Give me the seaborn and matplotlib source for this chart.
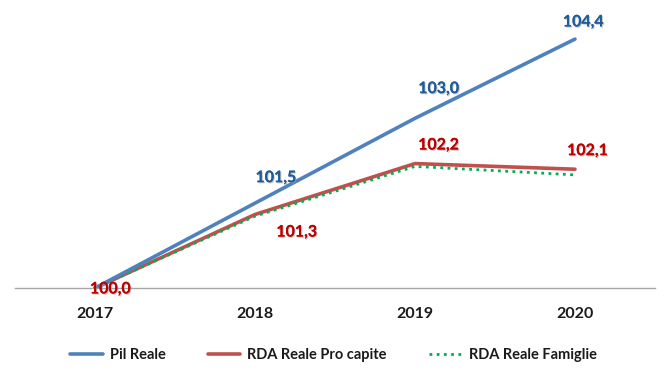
import matplotlib
matplotlib.use("Agg")
import matplotlib.pyplot as plt
import matplotlib.patheffects as pe
import seaborn as sns
import pandas as pd

years = ["2017", "2018", "2019", "2020"]
pil_reale = [100.0, 101.5, 103.0, 104.4]
rda_pro_capite = [100.0, 101.3, 102.2, 102.1]
rda_famiglie = [100.0, 101.27, 102.15, 102.0]
series_names = ["Pil Reale", "RDA Reale Pro capite", "RDA Reale Famiglie"]

df = pd.DataFrame({
    "anno": years * 3,
    "valore": pil_reale + rda_pro_capite + rda_famiglie,
    "serie": [series_names[0]] * 4 + [series_names[1]] * 4 + [series_names[2]] * 4,
})

sns.set_theme(style="white")
plt.rcParams['font.family'] = ['Lato', 'DejaVu Sans']

fig = plt.figure(figsize=(6.67, 3.8), dpi=100)
ax = fig.add_axes([0.0225, 0.242, 0.9595, 0.737])

palette = {series_names[0]: "#4F81BD", series_names[1]: "#C0504D", series_names[2]: "#00B050"}
sns.lineplot(data=df, x="anno", y="valore", hue="serie", style="serie",
             palette=palette,
             dashes={series_names[0]: "", series_names[1]: "", series_names[2]: (1, 1.6)},
             sort=False, ax=ax, legend=False)
lw = {0: 2.6, 1: 2.6, 2: 2.0}
zo = {0: 3, 1: 2.5, 2: 2.8}
for i, line in enumerate(ax.get_lines()[:3]):
    line.set_linewidth(lw[i])
    line.set_zorder(zo[i])

ax.set_xlim(-0.5, 3.5)
ax.set_ylim(100, 104.95)
ax.set_yticks([])
ax.set_xlabel("")
ax.set_ylabel("")
for s in ["top", "right", "left"]:
    ax.spines[s].set_visible(False)
ax.spines["bottom"].set_color("#A6A6A6")
ax.spines["bottom"].set_linewidth(1.0)
ax.tick_params(axis="x", length=0, pad=14, labelsize=11.5)
for t in ax.get_xticklabels():
    t.set_fontweight("bold")
    t.set_color("#1a1a1a")

def fmt(v):
    return f"{v:.1f}".replace(".", ",")

shadow = [pe.withSimplePatchShadow(offset=(0.8, -0.8), shadow_rgbFace="#9a9a9a", alpha=0.6), pe.Normal()]
blue_txt = "#1F5C99"
red_txt = "#C00000"
pil_offsets = [None, (15, 18), (17, 21), (6, 12)]
rda_offsets = [(11, -1), (30, -13), (17, 13), (9, 13)]
for i, v in enumerate(pil_reale):
    if pil_offsets[i] is None:
        continue
    ax.annotate(fmt(v), (i, v), xytext=pil_offsets[i], textcoords="offset points",
                ha="center", va="center", fontsize=11.5, fontweight="bold",
                color=blue_txt, path_effects=shadow, zorder=5)
for i, v in enumerate(rda_pro_capite):
    ax.annotate(fmt(v), (i, v), xytext=rda_offsets[i], textcoords="offset points",
                ha="center", va="center", fontsize=11.5, fontweight="bold",
                color=red_txt, path_effects=shadow, zorder=5, annotation_clip=False)

from matplotlib.lines import Line2D
handles = [
    Line2D([], [], color="#4F81BD", lw=2.6),
    Line2D([], [], color="#C0504D", lw=2.6),
    Line2D([], [], color="#00B050", lw=2.0, linestyle=(0, (1, 1.6))),
]
leg = fig.legend(handles, series_names, loc="center", bbox_to_anchor=(0.5, 0.066),
                 ncol=3, frameon=False, fontsize=10.5, handlelength=2.2,
                 handletextpad=0.5, columnspacing=2.9)
for t in leg.get_texts():
    t.set_fontweight("bold")
    t.set_color("#1a1a1a")

fig.savefig("out.png", dpi=100)
